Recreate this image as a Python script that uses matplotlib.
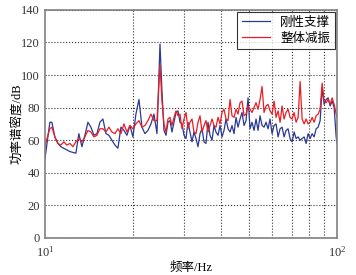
import matplotlib
matplotlib.use("Agg")
import matplotlib.pyplot as plt
from matplotlib.ticker import NullFormatter

plt.rcParams['font.family'] = ['Liberation Serif', 'Noto Sans CJK SC']
plt.rcParams['mathtext.fontset'] = 'stix'

# frequency (Hz)
freq = [10.0, 10.24, 10.40, 10.57, 10.82, 11.08, 11.34, 11.62, 11.89, 12.18,
        12.47, 12.77, 13.07, 13.39, 13.71, 14.04, 14.37, 14.72, 15.07, 15.43,
        15.80, 16.18, 16.56, 16.96, 17.37, 17.78, 18.21, 18.64, 19.09, 19.55,
        20.01, 20.49, 20.99, 21.49, 22.00, 22.53, 23.07, 23.62, 24.19,
        24.77, 25.16, 25.56, 25.97, 26.38, 26.80, 27.22, 27.66, 28.10, 28.54,
        28.99, 29.46, 29.93, 30.40, 30.88, 31.37, 31.87, 32.38, 32.89, 33.42,
        33.95, 34.49, 35.04, 35.59, 36.16, 36.73, 37.32, 37.91, 38.51, 39.13,
        39.75, 40.38, 41.02, 41.67, 42.34, 43.01, 43.69, 44.39, 45.09, 45.81,
        46.54, 47.28, 48.03, 48.79, 49.57, 50.35, 51.15, 51.97, 52.79, 53.63,
        54.48, 55.35, 56.23, 57.12, 58.03, 58.95, 59.89, 60.85, 61.81, 62.80,
        63.80, 64.81, 65.84, 66.89, 67.95, 69.03, 70.13, 71.25, 72.38, 73.53,
        74.70, 75.89, 77.09, 78.32, 79.56, 80.83, 82.12, 83.42, 84.75, 86.10,
        87.47, 88.85, 90.27, 91.70, 93.16, 94.64, 96.15, 97.68, 99.23, 100.0]

# rigid support (blue)
rigid = [48, 62, 71, 71, 62, 58, 56, 55, 54, 53,
         52.5, 52, 64, 56, 63, 71, 68, 63, 64, 71,
         73, 64, 63, 60, 57, 55, 68, 66, 63, 69,
         62, 76, 85, 68, 64, 66, 70, 76, 64,
         119, 90, 66, 63, 71, 72, 65, 71, 77, 78,
         71, 70, 63, 61, 71, 65, 59, 65, 61, 56,
         64, 67, 59, 58, 71, 63, 60, 69, 65, 63,
         69, 62, 66, 73, 67, 65, 69, 64, 74, 68,
         73, 77, 69, 72, 86, 67, 71, 66, 73, 66,
         75, 69, 68, 71, 67, 73, 64, 69, 70, 62,
         67, 68, 62, 66, 67, 61, 59, 65, 61, 62,
         60, 61, 62, 58, 64, 61, 64, 62, 67, 68,
         72, 92, 82, 85, 86, 81, 84, 80, 62, 58]

# whole vibration isolation (red)
isolated = [56, 63, 67, 68, 62, 58, 57, 59, 57, 58,
            56, 59, 61, 59, 62, 66, 65, 62, 63, 67,
            67, 65, 68, 65, 64, 67, 64, 70, 65, 69,
            67, 70, 72, 68, 69, 72, 76, 72, 72,
            106, 84, 70, 65, 73, 74, 69, 74, 78, 75,
            76, 67, 73, 77, 67, 71, 73, 65, 64, 71,
            75, 65, 69, 72, 65, 69, 73, 69, 68, 74,
            70, 77, 79, 73, 72, 85, 75, 74, 79, 76,
            83, 84, 75, 76, 81, 79, 77, 80, 83, 79,
            85, 93, 77, 81, 82, 78, 76, 84, 74, 78,
            71, 81, 73, 77, 79, 74, 73, 77, 71, 74,
            96, 73, 70, 73, 70, 71, 74, 71, 75, 76,
            79, 95, 84, 83, 85, 82, 86, 82, 76, 74]

fig = plt.figure(figsize=(3.56, 2.75), dpi=100)
ax = fig.add_axes([0.126, 0.135, 0.821, 0.829])

ax.plot(freq, rigid, color='#2b3990', lw=0.9, label='刚性支撑')
ax.plot(freq, isolated, color='#ed1c24', lw=0.9, label='整体减振')

ax.set_xscale('log')
ax.set_xlim(10, 100)
ax.set_ylim(0, 140)
ax.set_yticks(range(0, 141, 20))
ax.xaxis.set_minor_formatter(NullFormatter())

ax.grid(True, which='minor', axis='x', linestyle=':', color='#333333', lw=0.8)
ax.grid(True, which='major', axis='y', linestyle=':', color='#333333', lw=0.8)
ax.tick_params(which='both', direction='in', labelsize=9, colors='#333333', length=0)
ax.tick_params(axis='x', pad=5)
for s in ax.spines.values():
    s.set_color('#808080')
    s.set_linewidth(1.2)

ax.set_xlabel('频率/Hz', fontsize=9)
ax.xaxis.set_label_coords(0.5, -0.105)
ax.set_ylabel('功率谱密度/dB', fontsize=9)
ax.yaxis.set_label_coords(-0.075, 0.5)

leg = ax.legend(loc='upper right', fontsize=9, frameon=True, fancybox=False,
                borderaxespad=0.2, handlelength=2.3, borderpad=0.35, labelspacing=0.3)
leg.get_frame().set_edgecolor('black')
leg.get_frame().set_linewidth(0.8)

fig.savefig('out.png', dpi=100)
